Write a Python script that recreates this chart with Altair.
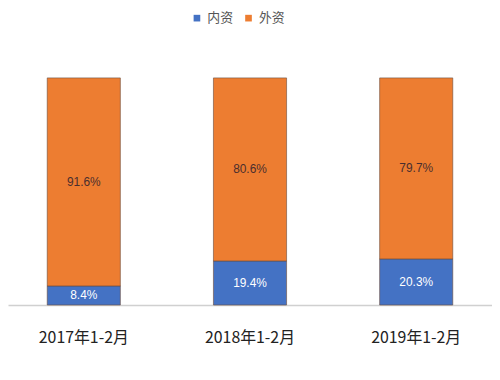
import altair as alt
import pandas as pd

categories = ["2017年1-2月", "2018年1-2月", "2019年1-2月"]
domestic = [8.4, 19.4, 20.3]
foreign = [91.6, 80.6, 79.7]
series = ["内资", "外资"]
colors = ["#4472C4", "#ED7D31"]

rows = []
for c, d, f in zip(categories, domestic, foreign):
    rows.append({"cat": c, "type": series[0], "value": d, "ord": 0})
    rows.append({"cat": c, "type": series[1], "value": f, "ord": 1})
df = pd.DataFrame(rows)

base = alt.Chart(df).transform_stack(
    stack="value", as_=["y0", "y1"], groupby=["cat"], sort=[alt.SortField("ord", order="ascending")]
).transform_calculate(
    mid="(datum.y0 + datum.y1) / 2",
    label="format(datum.value, '.1f') + '%'",
)

x = alt.X(
    "cat:N",
    sort=categories,
    title=None,
    scale=alt.Scale(paddingInner=0.56, paddingOuter=0.236),
    axis=alt.Axis(
        labelAngle=0,
        ticks=False,
        domainColor="#d0d0d0",
        domainWidth=1.5,
        labelFontSize=16,
        labelColor="#222222",
        labelFont="Noto Sans CJK SC",
        labelPadding=25,
    ),
)

bars = base.mark_bar(stroke="#6b4a3a", strokeOpacity=0.6, strokeWidth=1).encode(
    x=x,
    y=alt.Y("y0:Q", scale=alt.Scale(domain=[0, 100]), axis=None),
    y2="y1:Q",
    color=alt.Color(
        "type:N",
        scale=alt.Scale(domain=series, range=colors),
        legend=alt.Legend(
            title=None,
            orient="none",
            direction="horizontal",
            legendX=184,
            legendY=-67,
            symbolType="square",
            symbolSize=45,
            symbolStrokeWidth=0,
            labelFontSize=13,
            labelColor="#555555",
            labelFont="Noto Sans CJK SC",
            columnPadding=8,
            padding=0,
        ),
    ),
)

texts = base.mark_text(fontSize=12, font="Liberation Sans").encode(
    x=alt.X("cat:N", sort=categories),
    y=alt.Y("mid:Q"),
    text="label:N",
    color=alt.condition(alt.datum.type == "内资", alt.value("white"), alt.value("#4a2e2e")),
)

chart = (
    (bars + texts)
    .properties(
        width=488,
        height=229,
        padding={"left": 0, "top": 69, "right": 0, "bottom": 60},
        autosize=alt.AutoSizeParams(type="none"),
        background="white",
    )
    .configure_view(stroke=None)
)

chart.save("out.html", embed_options={"renderer": "svg", "actions": False})
